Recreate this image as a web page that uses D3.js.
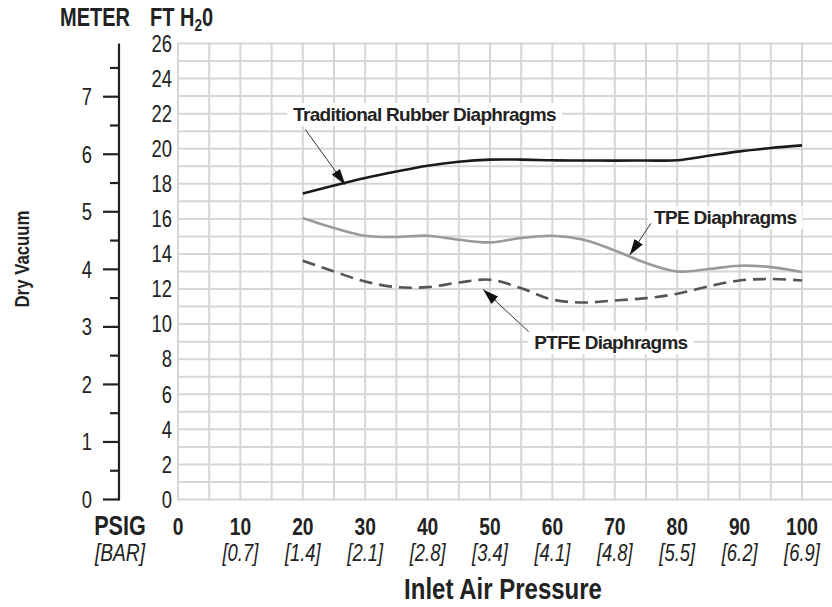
<!DOCTYPE html>
<html>
<head>
<meta charset="utf-8">
<script src="https://cdn.jsdelivr.net/npm/d3@7"></script>
<style>
  body { margin: 0; background: #fff; }
  svg { display: block; }
  text { font-family: 'Liberation Sans', Arial, sans-serif; fill: #222; }
  .callout { font-weight: bold; font-size: 19px; letter-spacing: -0.7px; }
</style>
</head>
<body>
<script>
// Inlet pressure (psig) sampled every 5 psig
const pressurePsig = [20, 25, 30, 35, 40, 45, 50, 55, 60, 65, 70, 75, 80, 85, 90, 95, 100];
// Dry vacuum in ft H2O
const rubberFt = [17.45, 17.9, 18.33, 18.7, 19.03, 19.26, 19.38, 19.38, 19.34, 19.33, 19.32, 19.33, 19.34, 19.6, 19.85, 20.04, 20.19];
const tpeFt    = [16.05, 15.48, 15.04, 14.97, 15.04, 14.81, 14.66, 14.91, 15.04, 14.81, 14.2, 13.48, 13.0, 13.14, 13.33, 13.25, 12.97];
const ptfeFt   = [13.61, 13.0, 12.43, 12.11, 12.11, 12.37, 12.53, 12.05, 11.4, 11.23, 11.35, 11.48, 11.73, 12.15, 12.49, 12.57, 12.49];

// Axis tick labels
const psigTicks = [0, 10, 20, 30, 40, 50, 60, 70, 80, 90, 100];
const barLabels = ['', '[0.7]', '[1.4]', '[2.1]', '[2.8]', '[3.4]', '[4.1]', '[4.8]', '[5.5]', '[6.2]', '[6.9]'];
const ftTicks = [0, 2, 4, 6, 8, 10, 12, 14, 16, 18, 20, 22, 24, 26];
const meterTicks = [0, 1, 2, 3, 4, 5, 6, 7];

// Call-out labels: text, label anchor and arrow (from -> tip), in psig / ft
const callouts = [
  { text: 'Traditional Rubber Diaphragms', at: [18.45, 21.58], from: [20.4, 21.1], tip: [26.8, 17.95] },
  { text: 'TPE Diaphragms', at: [76.3, 15.69], from: [75.8, 15.75], tip: [72.4, 13.94] },
  { text: 'PTFE Diaphragms', at: [57.1, 8.56], from: [56.2, 9.57], tip: [48.9, 11.98] }
];

const W = 832, H = 607;
const FT_PER_M = 1 / 0.3048;
const NARROW = 0.8; // no condensed face installed, so squeeze Liberation Sans

const svg = d3.select('body').append('svg')
  .attr('width', W)
  .attr('height', H);

const x = d3.scaleLinear().domain([0, 100]).range([178, 802]);
const y = d3.scaleLinear().domain([0, 26]).range([499.5, 43.5]);
// meter axis shares the same pixels
const yM = d3.scaleLinear().domain([0, 26 / FT_PER_M]).range([499.5, 43.5]);

// place a condensed text at (px, py)
function narrowAt(px, py) {
  return 'translate(' + px + ',' + py + ') scale(' + NARROW + ',1)';
}

// arrow head
svg.append('defs').append('marker')
  .attr('id', 'head')
  .attr('viewBox', '0 0 16 10')
  .attr('refX', 16).attr('refY', 5)
  .attr('markerWidth', 16).attr('markerHeight', 10)
  .attr('markerUnits', 'userSpaceOnUse')
  .attr('orient', 'auto')
  .append('path')
  .attr('d', 'M0,0 L16,5 L0,10 Z')
  .attr('fill', '#111');

// grid (runs past 100 psig to the page edge)
const grid = svg.append('g').attr('stroke', '#d6d6d6').attr('stroke-width', 2);
grid.selectAll('line.h')
  .data(d3.range(0, 27))
  .enter().append('line')
  .attr('x1', x(0)).attr('x2', x(105) + 2)
  .attr('y1', d => y(d)).attr('y2', d => y(d));
grid.selectAll('line.v')
  .data(d3.range(0, 110, 5))
  .enter().append('line')
  .attr('x1', d => x(d)).attr('x2', d => x(d))
  .attr('y1', y(26) - 1).attr('y2', y(0) + 1);

// FT H2O tick labels
svg.append('g')
  .selectAll('text')
  .data(ftTicks)
  .enter().append('text')
  .attr('transform', d => narrowAt(172, y(d)))
  .attr('dy', '0.36em')
  .attr('text-anchor', 'end')
  .attr('font-size', 23)
  .text(d => d);

// meter axis
const mAxis = svg.append('g');
mAxis.append('line')
  .attr('x1', 119).attr('x2', 119)
  .attr('y1', yM(26 / FT_PER_M)).attr('y2', yM(0) + 1)
  .attr('stroke', '#222').attr('stroke-width', 2.2);
mAxis.selectAll('line.minor')
  .data(d3.range(0.5, 8, 1))
  .enter().append('line')
  .attr('x1', 110).attr('x2', 119)
  .attr('y1', d => yM(d)).attr('y2', d => yM(d))
  .attr('stroke', '#222').attr('stroke-width', 2.2);
mAxis.selectAll('line.major')
  .data(meterTicks)
  .enter().append('line')
  .attr('x1', 103).attr('x2', 119)
  .attr('y1', d => yM(d)).attr('y2', d => yM(d))
  .attr('stroke', '#222').attr('stroke-width', 2.2);
mAxis.selectAll('text')
  .data(meterTicks)
  .enter().append('text')
  .attr('transform', d => narrowAt(92, yM(d)))
  .attr('dy', '0.36em')
  .attr('text-anchor', 'end')
  .attr('font-size', 23)
  .text(d => d);

// header units
svg.append('text')
  .attr('transform', narrowAt(60, 26))
  .attr('font-size', 25).attr('font-weight', 'bold')
  .text('METER');
const ftHead = svg.append('text')
  .attr('transform', narrowAt(150, 26))
  .attr('font-size', 25).attr('font-weight', 'bold');
ftHead.append('tspan').text('FT H');
ftHead.append('tspan').attr('font-size', 17).attr('dy', 5).text('2');
ftHead.append('tspan').attr('dy', -5).text('0');

// x tick labels
const xl = svg.append('g');
xl.selectAll('text.psig')
  .data(psigTicks)
  .enter().append('text')
  .attr('transform', d => narrowAt(x(d), 535))
  .attr('text-anchor', 'middle')
  .attr('font-size', 24).attr('font-weight', 'bold')
  .text(d => d);
xl.selectAll('text.bar')
  .data(psigTicks)
  .enter().append('text')
  .attr('transform', d => narrowAt(x(d), 561))
  .attr('text-anchor', 'middle')
  .attr('font-size', 23).attr('font-style', 'italic')
  .text((d, i) => barLabels[i]);
xl.append('text')
  .attr('transform', narrowAt(120, 535))
  .attr('text-anchor', 'middle')
  .attr('font-size', 27).attr('font-weight', 'bold')
  .text('PSIG');
xl.append('text')
  .attr('transform', narrowAt(120, 561))
  .attr('text-anchor', 'middle')
  .attr('font-size', 24).attr('font-style', 'italic')
  .text('[BAR]');

// axis titles
svg.append('text')
  .attr('transform', narrowAt(503, 599))
  .attr('text-anchor', 'middle')
  .attr('font-size', 30).attr('font-weight', 'bold')
  .text('Inlet Air Pressure');
svg.append('text')
  .attr('transform', 'translate(29,259) rotate(-90) scale(' + NARROW + ',1)')
  .attr('text-anchor', 'middle')
  .attr('font-size', 21).attr('font-weight', 'bold')
  .text('Dry Vacuum');

// curves
const line = d3.line()
  .x((d, i) => x(pressurePsig[i]))
  .y(d => y(d))
  .curve(d3.curveCatmullRom.alpha(0.5));

svg.append('path').datum(ptfeFt)
  .attr('d', line)
  .attr('fill', 'none').attr('stroke', '#555')
  .attr('stroke-width', 2.6).attr('stroke-dasharray', '13,7');
svg.append('path').datum(tpeFt)
  .attr('d', line)
  .attr('fill', 'none').attr('stroke', '#9a9a9a')
  .attr('stroke-width', 2.6);
svg.append('path').datum(rubberFt)
  .attr('d', line)
  .attr('fill', 'none').attr('stroke', '#1a1a1a')
  .attr('stroke-width', 2.6);

// call-outs with white backing box and arrow
const co = svg.append('g');
callouts.forEach(c => {
  const g = co.append('g');
  const t = g.append('text').attr('class', 'callout')
    .attr('x', x(c.at[0])).attr('y', y(c.at[1]))
    .text(c.text);
  const b = t.node().getBBox();
  g.insert('rect', 'text')
    .attr('x', b.x - 6).attr('y', b.y - 1)
    .attr('width', b.width + 12).attr('height', b.height + 2)
    .attr('fill', '#fff');
  g.append('line')
    .attr('x1', x(c.from[0])).attr('y1', y(c.from[1]))
    .attr('x2', x(c.tip[0])).attr('y2', y(c.tip[1]))
    .attr('stroke', '#333').attr('stroke-width', 1)
    .attr('marker-end', 'url(#head)');
});
</script>
</body>
</html>
